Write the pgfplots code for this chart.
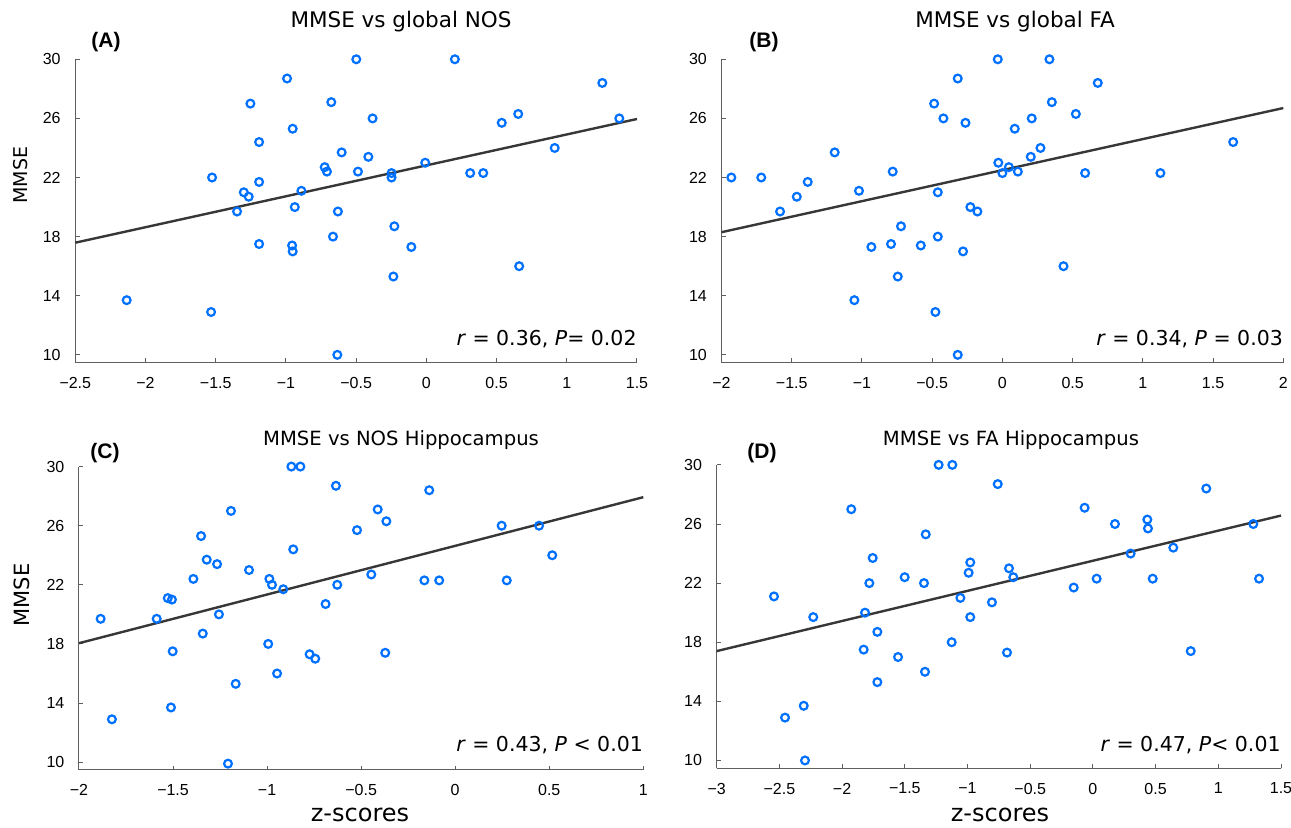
\documentclass[border=0pt]{standalone}
\usepackage{pgfplots}
\pgfplotsset{compat=1.18}
\usepackage{fontspec}
\setmainfont{DejaVu Sans}
\newfontfamily\helv{Liberation Sans}

\definecolor{ptblue}{RGB}{0,113,255}
\definecolor{axgray}{RGB}{95,95,95}
\definecolor{fitgray}{RGB}{55,55,55}

% one panel = left/bottom axis lines only, ticks inside, MATLAB look
\pgfplotsset{
  panel/.style={
    scale only axis,
    height=151.7pt,
    axis x line*=bottom, axis y line*=left,
    axis line style={-, axgray, line width=0.5pt},
    xtick pos=bottom, ytick pos=left,
    tick align=inside, major tick length=2.2pt,
    every tick/.style={axgray, line width=0.5pt},
    ymin=9.47, ymax=30, ytick={10,14,...,30},
    tick label style={font=\helv\fontsize{8}{9}\selectfont, text=black},
    yticklabel style={xshift=-3.8pt},
    xticklabel style={yshift=-3.8pt},
    /pgf/number format/assume math mode=true,
    clip=false,
  },
  pts/.style={only marks, mark=o, mark size=1.95pt,
    mark options={ptblue, line width=1.1pt}},
  fit/.style={no marks, fitgray, line width=1.2pt},
}

\newcommand{\rtext}[1]{\fontsize{10.25}{12}\selectfont #1}

\begin{document}
\begin{tikzpicture}

% (A) MMSE vs global NOS
\begin{axis}[panel, width=280.85pt, at={(37.65pt,232.65pt)}, anchor=south west,
    xmin=-2.5, xmax=1.5, xtick={-2.5,-2,...,1.5},
    xticklabels={−2.5,−2,−1.5,−1,−0.5,0,0.5,1,1.5}]
\addplot[pts] table {
-2.134 13.7
-1.533 12.9
-1.526 22.0
-1.348 19.7
-1.300 21.0
-1.265 20.7
-1.253 27.0
-1.191 24.4
-1.191 21.7
-1.191 17.5
-0.992 28.7
-0.952 25.3
-0.937 20.0
-0.956 17.4
-0.952 17.0
-0.890 21.1
-0.724 22.7
-0.708 22.4
-0.677 27.1
-0.665 18.0
-0.630 19.7
-0.603 23.7
-0.634 10.0
-0.499 30.0
-0.487 22.4
-0.383 26.0
-0.413 23.4
-0.248 22.3
-0.248 22.0
-0.228 18.7
-0.235 15.3
-0.107 17.3
-0.008 23.0
0.203 30.0
0.312 22.3
0.405 22.3
0.537 25.7
0.654 26.3
0.661 16.0
0.914 24.0
1.253 28.4
1.374 26.0
};
\addplot[fit] coordinates {(-2.5,17.59) (1.5,25.96)};
\node[anchor=base east, inner sep=0pt] at ([yshift=8.5pt]rel axis cs:1,0)
  {\rtext{\textit{r} = 0.36, \textit{P}= 0.02}};
\end{axis}

% (B) MMSE vs global FA
\begin{axis}[panel, width=280.9pt, at={(360.75pt,232.65pt)}, anchor=south west,
    xmin=-2, xmax=2, xtick={-2,-1.5,...,2},
    xticklabels={−2,−1.5,−1,−0.5,0,0.5,1,1.5,2}]
\addplot[pts] table {
-1.930 22.0
-1.717 22.0
-1.583 19.7
-1.464 20.7
-1.386 21.7
-1.194 23.7
-1.021 21.1
-1.054 13.7
-0.933 17.3
-0.793 17.5
-0.781 22.4
-0.722 18.7
-0.745 15.3
-0.581 17.4
-0.486 27.0
-0.460 21.0
-0.460 18.0
-0.477 12.9
-0.420 26.0
-0.318 28.7
-0.280 17.0
-0.318 10.0
-0.263 25.7
-0.228 20.0
-0.178 19.7
-0.033 30.0
-0.029 23.0
0.000 22.3
0.046 22.7
0.110 22.4
0.088 25.3
0.209 26.0
0.202 23.4
0.271 24.0
0.335 30.0
0.352 27.1
0.523 26.3
0.589 22.3
0.435 16.0
0.679 28.4
1.125 22.3
1.643 24.4
};
\addplot[fit] coordinates {(-2,18.3) (2,26.7)};
\node[anchor=base east, inner sep=0pt] at ([yshift=8.8pt]rel axis cs:1,0)
  {\rtext{\textit{r} = 0.34, \textit{P} = 0.03}};
\end{axis}

% (C) MMSE vs NOS Hippocampus
\begin{axis}[panel, width=282.15pt, at={(39.5pt,29pt)}, anchor=south west,
    xmin=-2, xmax=1, xtick={-2,-1.5,...,1},
    xticklabels={−2,−1.5,−1,−0.5,0,0.5,1}]
\addplot[pts] table {
-1.885 19.7
-1.825 12.9
-1.587 19.7
-1.528 21.1
-1.506 21.0
-1.502 17.5
-1.511 13.7
-1.392 22.4
-1.351 25.3
-1.321 23.7
-1.342 18.7
-1.266 23.4
-1.256 20.0
-1.192 27.0
-1.167 15.3
-1.208 9.9
-1.096 23.0
-0.988 22.4
-0.974 22.0
-0.994 18.0
-0.947 16.0
-0.914 21.7
-0.871 30.0
-0.823 30.0
-0.861 24.4
-0.774 17.3
-0.744 17.0
-0.689 20.7
-0.634 28.7
-0.627 22.0
-0.522 25.7
-0.412 27.1
-0.366 26.3
-0.446 22.7
-0.372 17.4
-0.138 28.4
-0.164 22.3
-0.085 22.3
0.247 26.0
0.274 22.3
0.446 26.0
0.516 24.0
};
\addplot[fit] coordinates {(-2,18.05) (1,27.93)};
\node[anchor=base east, inner sep=0pt] at ([yshift=9.2pt]rel axis cs:1,0)
  {\rtext{\textit{r} = 0.43, \textit{P} < 0.01}};
\end{axis}

% (D) MMSE vs FA Hippocampus
\begin{axis}[panel, width=282.15pt, at={(358.35pt,29.85pt)}, anchor=south west,
    xmin=-3, xmax=1.5, xtick={-3,-2.5,...,1.5},
    xticklabels={−3,−2.5,−2,−1.5,−1,−0.5,0,0.5,1,1.5}]
\addplot[pts] table {
-2.543 21.1
-2.455 12.9
-2.306 13.7
-2.296 10.0
-2.230 19.7
-1.927 27.0
-1.756 23.7
-1.783 22.0
-1.817 20.0
-1.719 18.7
-1.828 17.5
-1.719 15.3
-1.554 17.0
-1.501 22.4
-1.347 22.0
-1.333 25.3
-1.339 16.0
-1.230 30.0
-1.121 30.0
-1.126 18.0
-1.057 21.0
-0.978 23.4
-0.991 22.7
-0.978 19.7
-0.805 20.7
-0.759 28.7
-0.669 23.0
-0.635 22.4
-0.685 17.3
-0.153 21.7
-0.066 27.1
0.030 22.3
0.176 26.0
0.301 24.0
0.434 26.3
0.439 25.7
0.477 22.3
0.641 24.4
0.780 17.4
0.904 28.4
1.279 26.0
1.325 22.3
};
\addplot[fit] coordinates {(-3,17.4) (1.5,26.57)};
\node[anchor=base east, inner sep=0pt] at ([yshift=8.3pt]rel axis cs:1,0)
  {\rtext{\textit{r} = 0.47, \textit{P}< 0.01}};
\end{axis}

% titles, panel letters, axis labels
\node[font=\fontsize{10.75}{12}\selectfont] at (200.5pt,403pt) {MMSE vs global NOS};
\node[font=\fontsize{10.75}{12}\selectfont] at (507.5pt,403pt) {MMSE vs global FA};
\node[font=\fontsize{9.8}{11}\selectfont] at (200.5pt,194pt) {MMSE vs NOS Hippocampus};
\node[font=\fontsize{9.8}{11}\selectfont] at (505.5pt,194pt) {MMSE vs FA Hippocampus};

\node[font=\helv\bfseries\fontsize{10.5}{12}\selectfont] at (53pt,393pt) {(A)};
\node[font=\helv\bfseries\fontsize{10.5}{12}\selectfont] at (382pt,393pt) {(B)};
\node[font=\helv\bfseries\fontsize{10.5}{12}\selectfont] at (52.5pt,187.5pt) {(C)};
\node[font=\helv\bfseries\fontsize{10.5}{12}\selectfont] at (381pt,187.5pt) {(D)};

\node[rotate=90, font=\fontsize{9.5}{11}\selectfont] at (10.5pt,326.5pt) {MMSE};
\node[rotate=90, font=\fontsize{10.5}{12}\selectfont] at (11pt,116.5pt) {MMSE};
\node[font=\fontsize{12}{14}\selectfont] at (180pt,6.5pt) {z-scores};
\node[font=\fontsize{12}{14}\selectfont] at (500pt,6.5pt) {z-scores};

\pgfresetboundingbox
\path[use as bounding box] (0,0) rectangle (645.5pt,414pt);
\end{tikzpicture}
\end{document}
